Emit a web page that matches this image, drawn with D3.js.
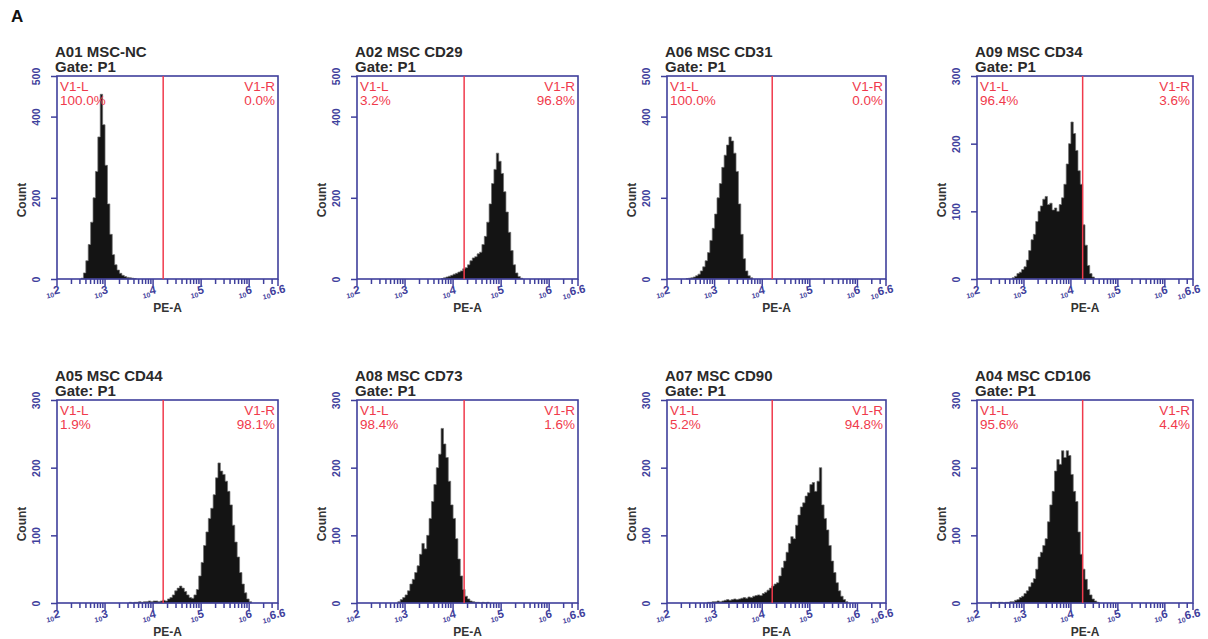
<!DOCTYPE html>
<html><head><meta charset="utf-8">
<script src="https://cdn.jsdelivr.net/npm/d3@7"></script>
<style>
body{margin:0;background:#fff;}
svg{display:block;font-family:"Liberation Sans",Arial,sans-serif;}
</style>
</head><body>
<svg id="chart" width="1208" height="639"></svg>
<script>
// ---------------- DATA ----------------
const panelTitles = ["A01 MSC-NC","A02 MSC CD29","A06 MSC CD31","A09 MSC CD34",
                     "A05 MSC CD44","A08 MSC CD73","A07 MSC CD90","A04 MSC CD106"];
const gateName = "Gate: P1";
const leftPct  = ["100.0%","3.2%","100.0%","96.4%","1.9%","98.4%","5.2%","95.6%"];
const rightPct = ["0.0%","96.8%","0.0%","3.6%","98.1%","1.6%","94.8%","4.4%"];
const yMax = [500,500,500,300,300,300,300,300];
const yTicks500 = [0,200,400,500];
const yTicks300 = [0,100,200,300];
const xMinExp = 2, xMaxExp = 6.6;
const xMajorExps = [2,3,4,5,6];
const gateExp = [4.21,4.23,4.21,4.25,4.21,4.23,4.21,4.25];
const binWidthExp = 0.05;
const binStartExp = [2.50,3.75,2.40,2.75,3.50,2.85,2.85,2.30];

const counts_A01 = [2,15,45,85,140,200,265,350,455,380,280,185,110,60,35,22,14,9,6,4,3,2,1];
const counts_A02 = [1,3,5,7,9,12,14,17,20,25,28,35,45,52,55,62,66,85,105,140,185,235,270,310,290,260,215,165,115,70,35,15,6,2];
const counts_A06 = [1,2,3,5,8,12,20,30,45,65,95,125,160,200,235,275,305,330,350,340,310,265,185,110,50,20,8,3];
const counts_A09 = [2,4,8,10,14,18,28,42,58,66,85,100,108,118,122,110,112,102,105,100,110,120,140,170,200,232,215,190,160,140,80,50,20,8,3];
const counts_A05 = [1,0,1,1,2,1,2,2,3,2,3,3,2,3,4,3,6,8,12,18,22,25,22,17,12,8,7,12,20,40,60,85,105,125,140,160,185,207,195,190,180,165,145,115,90,68,45,28,15,6,2];
const counts_A08 = [2,5,8,12,18,28,35,45,55,72,88,80,100,125,150,175,200,220,258,235,215,180,145,125,95,65,40,20,10,6,3,2,1,1,0,1,0,1];
const counts_A07 = [1,1,2,2,3,2,3,4,5,4,5,6,5,6,7,8,7,9,8,10,11,12,11,14,16,19,22,25,28,30,40,52,62,75,88,98,95,115,130,142,148,158,163,175,178,165,180,200,145,125,108,85,62,45,30,18,10,5,2];
const counts_A04 = [1,1,0,1,1,0,1,1,2,2,4,5,8,10,14,18,24,30,36,50,68,75,85,95,120,145,165,195,212,205,225,215,225,218,190,165,150,105,72,50,35,20,12,6,3,1];
const panelCounts = [counts_A01,counts_A02,counts_A06,counts_A09,counts_A05,counts_A08,counts_A07,counts_A04];

// ---------------- LAYOUT ----------------
const colLeft  = [57,357,667,977];
const colWidth = [221,221,219,216];
const rowTop   = [76,400];
const plotH = 203;
const axisColor = "#3f3f9c";
const redColor = "#f03a4c";

const svg = d3.select("#chart");
svg.append("text").attr("x",11).attr("y",22).attr("font-size",17).attr("font-weight","bold")
   .attr("fill","#111").text("A");

panelTitles.forEach((title,i)=>{
  const row = Math.floor(i/4), col = i%4;
  const L = colLeft[col], W = colWidth[col], T = rowTop[row], B = T+plotH;
  const x = d3.scaleLog().domain([Math.pow(10,xMinExp), Math.pow(10,xMaxExp)]).range([L, L+W]);
  const y = d3.scaleLinear().domain([0,yMax[i]]).range([B,T]);
  const g = svg.append("g");

  // titles
  g.append("text").attr("x",L-2).attr("y",T-19).attr("font-size",15).attr("font-weight","bold")
    .attr("fill","#2a2a2a").text(title);
  g.append("text").attr("x",L-2).attr("y",T-4).attr("font-size",15).attr("font-weight","bold")
    .attr("fill","#2a2a2a").text(gateName);

  // histogram
  const start = binStartExp[i], cs = panelCounts[i];
  const pts = [[start,0]];
  cs.forEach((c,k)=>{
    const a = start + k*binWidthExp, b = a + binWidthExp;
    pts.push([a,c],[b,c]);
  });
  pts.push([start+cs.length*binWidthExp,0]);
  const line = d3.line().x(d=>x(Math.pow(10,d[0]))).y(d=>y(d[1]));
  g.append("path").attr("d",line(pts)+"Z").attr("fill","#141414")
    .attr("stroke","#6e6e6e").attr("stroke-width",0.7);

  // box
  g.append("rect").attr("x",L).attr("y",T).attr("width",W).attr("height",plotH)
    .attr("fill","none").attr("stroke",axisColor).attr("stroke-width",1.6);

  // gate line
  const gx = x(Math.pow(10,gateExp[i]));
  g.append("line").attr("x1",gx).attr("x2",gx).attr("y1",T).attr("y2",B)
    .attr("stroke",redColor).attr("stroke-width",1.5);

  // gate labels
  const fs = 13.5;
  g.append("text").attr("x",L+3).attr("y",T+15).attr("font-size",fs).attr("fill",redColor).text("V1-L");
  g.append("text").attr("x",L+3).attr("y",T+28.5).attr("font-size",fs).attr("fill",redColor).text(leftPct[i]);
  g.append("text").attr("x",L+W-3).attr("y",T+15).attr("font-size",fs).attr("fill",redColor)
    .attr("text-anchor","end").text("V1-R");
  g.append("text").attr("x",L+W-3).attr("y",T+28.5).attr("font-size",fs).attr("fill",redColor)
    .attr("text-anchor","end").text(rightPct[i]);

  // y axis ticks
  const yt = yMax[i]===500 ? yTicks500 : yTicks300;
  const yAxis = d3.axisLeft(y).tickValues(yt).tickSize(6).tickFormat(d3.format("d"));
  const ya = g.append("g").attr("transform",`translate(${L},0)`).call(yAxis);
  ya.select(".domain").remove();
  ya.selectAll(".tick line").attr("stroke",axisColor).attr("stroke-width",1.5);
  ya.selectAll(".tick text").attr("fill",axisColor).attr("font-size",10.5).attr("font-weight","bold")
    .attr("font-family","Liberation Sans, Arial, sans-serif")
    .attr("text-anchor","middle").attr("x",0).attr("dy",0)
    .attr("transform","translate(-17,0) rotate(-90)").attr("y",0);

  // x axis ticks (log)
  const minor = [];
  for (let e=2;e<=6;e++) for (let k=1;k<=9;k++){ const v=k*Math.pow(10,e); if (v<=Math.pow(10,xMaxExp)) minor.push(v); }
  minor.push(Math.pow(10,xMaxExp));
  g.selectAll(null).data(minor).enter().append("line")
    .attr("x1",d=>x(d)).attr("x2",d=>x(d)).attr("y1",B)
    .attr("y2",d=>{const l=Math.log10(d); return (Math.abs(l-Math.round(l))<1e-9||d===Math.pow(10,xMaxExp))?B+7:B+5;})
    .attr("stroke",axisColor).attr("stroke-width",1.5);

  const labels = xMajorExps.map(e=>({v:Math.pow(10,e),s:String(e)})).concat([{v:Math.pow(10,xMaxExp),s:String(xMaxExp)}]);
  labels.forEach(lb=>{
    const t = g.append("text").attr("transform",`translate(${x(lb.v)-3},${B+18}) rotate(-12)`)
      .attr("fill",axisColor).attr("text-anchor","middle").attr("font-weight","bold");
    t.append("tspan").attr("font-size",7).text("10");
    t.append("tspan").attr("font-size",11.5).attr("dy",-2.5).text(lb.s);
  });

  // axis titles
  g.append("text").attr("x",L+W/2).attr("y",B+33).attr("text-anchor","middle")
    .attr("font-size",12).attr("font-weight","bold").attr("fill","#333").text("PE-A");
  g.append("text").attr("transform",`translate(${L-31},${T+124}) rotate(-90)`).attr("text-anchor","middle")
    .attr("font-size",12).attr("font-weight","bold").attr("fill","#333").text("Count");
});
</script>
</body></html>
